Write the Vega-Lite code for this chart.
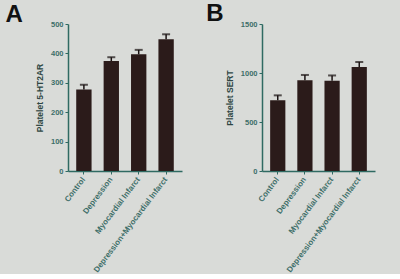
{
  "$schema": "https://vega.github.io/schema/vega-lite/v6.json",
  "background": "#d9dbd8",
  "padding": {"left": 5, "top": 2, "right": 31, "bottom": 0},
  "spacing": 24,
  "datasets": {
    "A": [
      {"group": "Control", "value": 277, "upper": 293},
      {"group": "Depression", "value": 374, "upper": 387},
      {"group": "Myocardial Infarct", "value": 397, "upper": 412},
      {"group": "Depression+Myocardial Infarct", "value": 448, "upper": 465}
    ],
    "B": [
      {"group": "Control", "value": 722, "upper": 772},
      {"group": "Depression", "value": 925, "upper": 980},
      {"group": "Myocardial Infarct", "value": 922, "upper": 975},
      {"group": "Depression+Myocardial Infarct", "value": 1062, "upper": 1112}
    ]
  },
  "config": {
    "view": {"stroke": null},
    "font": "Liberation Sans",
    "axis": {
      "domainColor": "#2f6a62",
      "tickColor": "#2f6a62",
      "labelColor": "#3d6e68",
      "titleColor": "#2f4744",
      "grid": false,
      "labelFont": "Liberation Sans",
      "titleFont": "Liberation Sans",
      "labelFontSize": 7.5,
      "labelFontWeight": "bold",
      "titleFontSize": 8.5,
      "titleFontWeight": "bold",
      "domainWidth": 1.5,
      "tickSize": 3,
      "labelOverlap": false
    },
    "title": {"fontSize": 24, "fontWeight": "bold", "color": "#111111", "anchor": "start", "font": "Liberation Sans"}
  },
  "hconcat": [
    {
      "title": {"text": "A", "dx": -30, "dy": -3, "offset": -10},
      "data": {"name": "A"},
      "width": 114,
      "height": 147,
      "encoding": {
        "x": {"field": "group", "type": "nominal", "sort": null,
              "scale": {"paddingInner": 0.44, "paddingOuter": 0.3},
              "axis": {"title": null, "labelAngle": -53, "labelAlign": "right", "labelBaseline": "middle", "labelPadding": 4, "labelFontSize": 8}}
      },
      "layer": [
        {"mark": {"type": "bar", "color": "#2b1b1a"},
         "encoding": {"y": {"field": "value", "type": "quantitative", "scale": {"domain": [0, 500]},
              "axis": {"title": "Platelet 5-HT2AR", "values": [0, 100, 200, 300, 400, 500], "format": "d", "titlePadding": 6}}}},
        {"mark": {"type": "rule", "color": "#1a1212", "strokeWidth": 1.5},
         "encoding": {"y": {"field": "value", "type": "quantitative", "scale": {"domain": [0, 500]},
              "axis": {"title": "Platelet 5-HT2AR", "values": [0, 100, 200, 300, 400, 500], "format": "d", "titlePadding": 6}},
              "y2": {"field": "upper"}}},
        {"mark": {"type": "tick", "color": "#1a1212", "thickness": 2, "size": 8},
         "encoding": {"y": {"field": "upper", "type": "quantitative", "scale": {"domain": [0, 500]},
              "axis": {"title": "Platelet 5-HT2AR", "values": [0, 100, 200, 300, 400, 500], "format": "d", "titlePadding": 6}}}}
      ]
    },
    {
      "title": {"text": "B", "dx": -19, "dy": -4, "offset": -10},
      "data": {"name": "B"},
      "width": 113,
      "height": 147,
      "encoding": {
        "x": {"field": "group", "type": "nominal", "sort": null,
              "scale": {"paddingInner": 0.44, "paddingOuter": 0.3},
              "axis": {"title": null, "labelAngle": -53, "labelAlign": "right", "labelBaseline": "middle", "labelPadding": 4, "labelFontSize": 8}}
      },
      "layer": [
        {"mark": {"type": "bar", "color": "#2b1b1a"},
         "encoding": {"y": {"field": "value", "type": "quantitative", "scale": {"domain": [0, 1500]},
              "axis": {"title": "Platelet SERT", "values": [0, 500, 1000, 1500], "format": "d", "titlePadding": 6}}}},
        {"mark": {"type": "rule", "color": "#1a1212", "strokeWidth": 1.5},
         "encoding": {"y": {"field": "value", "type": "quantitative", "scale": {"domain": [0, 1500]},
              "axis": {"title": "Platelet SERT", "values": [0, 500, 1000, 1500], "format": "d", "titlePadding": 6}},
              "y2": {"field": "upper"}}},
        {"mark": {"type": "tick", "color": "#1a1212", "thickness": 2, "size": 8},
         "encoding": {"y": {"field": "upper", "type": "quantitative", "scale": {"domain": [0, 1500]},
              "axis": {"title": "Platelet SERT", "values": [0, 500, 1000, 1500], "format": "d", "titlePadding": 6}}}}
      ]
    }
  ]
}
